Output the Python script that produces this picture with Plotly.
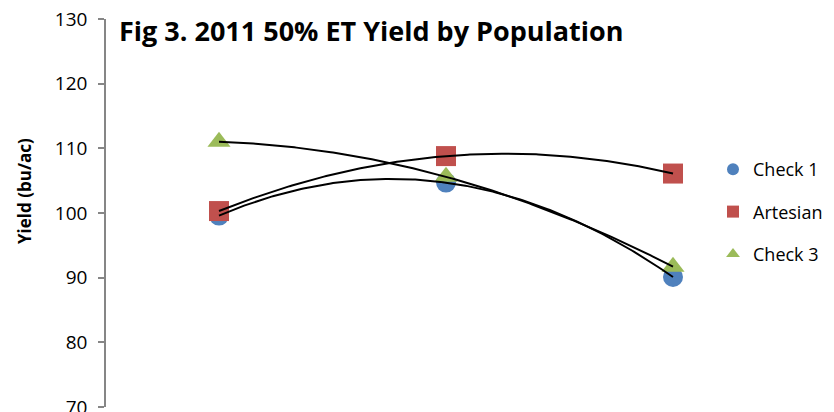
import numpy as np
import plotly.graph_objects as go

# Plant population levels (categorical positions along x)
positions = [1, 2, 3]

# Yield (bu/ac) for each hybrid at each population
series_names = ["Check 1", "Artesian", "Check 3"]
check1 = [99.6, 104.7, 90.1]
artesian = [100.3, 108.8, 106.1]
check3 = [111.0, 105.6, 91.7]

series_colors = ["#4F81BD", "#C0504D", "#9BBB59"]
series_symbols = ["circle", "square", "triangle-up"]

y_ticks = [70, 80, 90, 100, 110, 120, 130]

W, H = 834, 412
ML, MR, MT, MB = 106, 114, 19, 5
PW, PH = W - ML - MR, H - MT - MB


def px_x(px):
    return (px - ML) / PW


def px_y(py):
    return (H - MB - py) / PH


FONT = "Open Sans"

fig = go.Figure()

all_series = [check1, artesian, check3]
for name, vals, col, sym in zip(series_names, all_series, series_colors, series_symbols):
    fig.add_trace(go.Scatter(
        x=positions, y=vals, mode="markers", name=name,
        legendgroup=name,
        marker=dict(color=col, symbol=sym, size=20, line=dict(width=0)),
        cliponaxis=False,
    ))

# Second-order polynomial trendlines
xs = np.linspace(positions[0], positions[-1], 200)
for name, vals in zip(series_names, all_series):
    coef = np.polyfit(positions, vals, 2)
    fig.add_trace(go.Scatter(
        x=xs, y=np.polyval(coef, xs), mode="lines",
        line=dict(color="black", width=2),
        showlegend=False, hoverinfo="skip", cliponaxis=False,
    ))

fig.update_layout(
    width=W, height=H,
    margin=dict(l=ML, r=MR, t=MT, b=MB, autoexpand=False),
    paper_bgcolor="white", plot_bgcolor="white",
    font=dict(family=FONT, color="black"),
    showlegend=True,
    legend=dict(
        x=px_x(713), y=px_y(151), xanchor="left", yanchor="top",
        font=dict(size=18, family=FONT, color="black"),
        itemsizing="constant", tracegroupgap=16,
        bgcolor="rgba(0,0,0,0)",
    ),
    xaxis=dict(range=[1 - 113 / 227, 3 + 47 / 227], visible=False, fixedrange=True),
    yaxis=dict(
        range=[70, 130], tickvals=y_ticks, ticktext=[str(v) for v in y_ticks],
        showgrid=False, zeroline=False,
        showline=True, linecolor="#868686", linewidth=1.5,
        ticks="outside", ticklen=6, tickcolor="#868686", tickwidth=1.5,
        tickfont=dict(size=19, family=FONT, color="black"),
        ticklabelstandoff=7, ticklabeloverflow="allow",
        automargin=False,
    ),
    annotations=[
        dict(text="<b>Fig 3. 2011 50% ET Yield by Population</b>",
             xref="paper", yref="paper", x=px_x(117), y=px_y(30),
             xanchor="left", yanchor="middle", showarrow=False,
             font=dict(size=27, family=FONT, color="black")),
        dict(text="<b>Yield (bu/ac)</b>", textangle=-90,
             xref="paper", yref="paper", x=px_x(24), y=px_y(191),
             xanchor="center", yanchor="middle", showarrow=False,
             font=dict(size=17, family=FONT, color="black")),
    ],
)

fig.write_html("out.html")
